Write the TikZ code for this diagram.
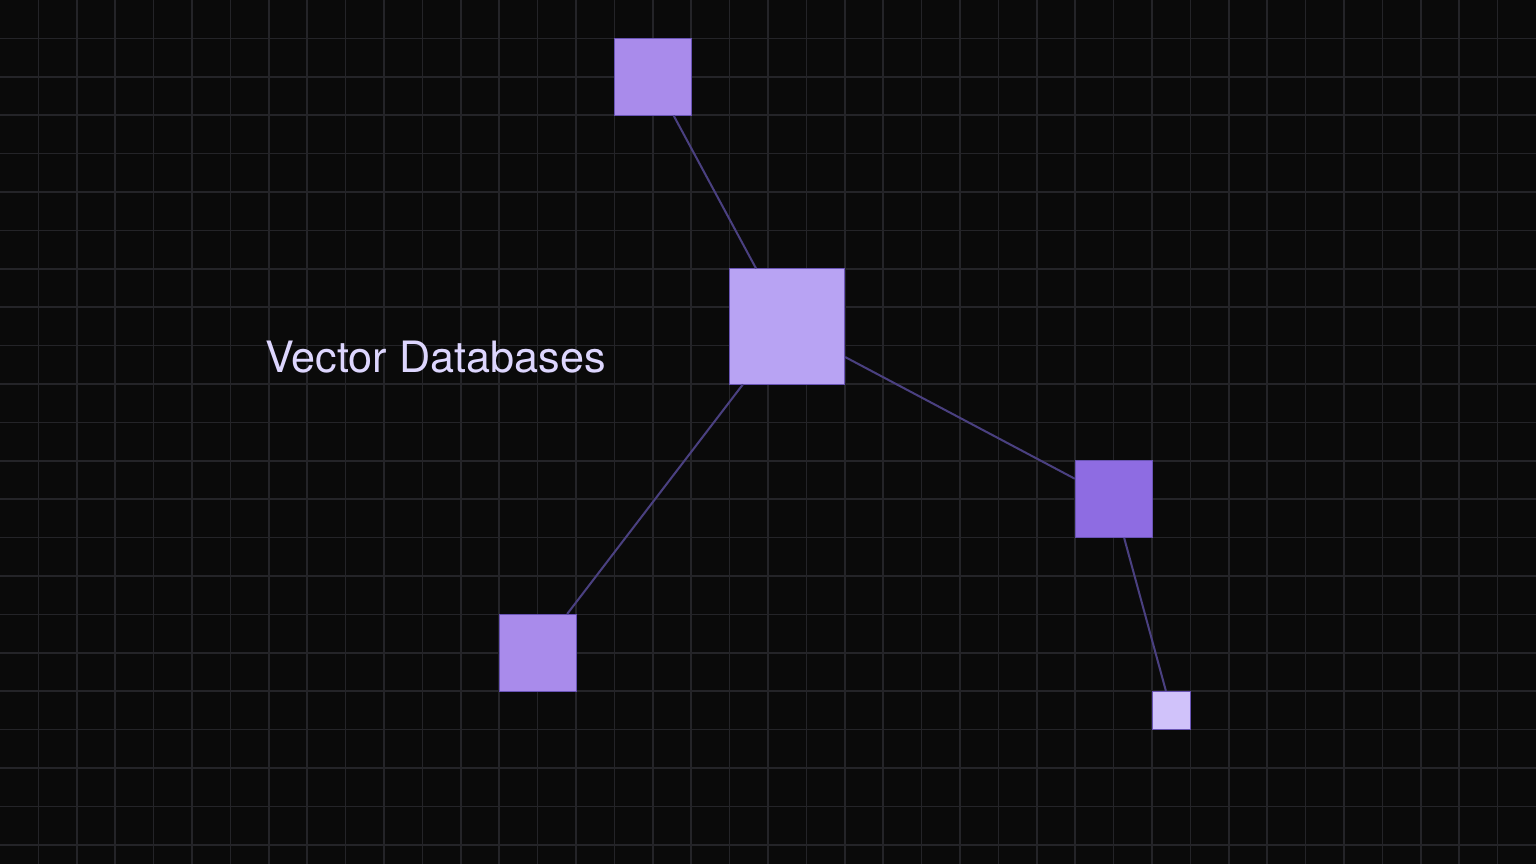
\documentclass[tikz,border=0pt]{standalone}
\usepackage{fontspec}
\setmainfont{TeX Gyre Heros}
\definecolor{bgdark}{HTML}{0A0A0A}
\definecolor{gridgray}{HTML}{242428}
\definecolor{linkviolet}{HTML}{4A4080}
\definecolor{edgeviolet}{HTML}{6A55B5}
\definecolor{vmid}{HTML}{A98BEB}
\definecolor{vlight}{HTML}{B8A3F3}
\definecolor{vdeep}{HTML}{8E6CE2}
\definecolor{vpale}{HTML}{D0C2FA}
\definecolor{labelpale}{HTML}{DDD6FE}
\tikzset{
    vecbox/.style={draw=edgeviolet,line width=0.6pt,inner sep=0pt,minimum size=#1cm},
    link/.style={draw=linkviolet,line width=1.5pt}
}
\begin{document}
\begin{tikzpicture}
    \useasboundingbox (0,-22.5) rectangle (40,0);
    \fill[bgdark] (-0.5,-23) rectangle (40.5,0.5);
    \foreach \i in {1,...,39}{
        \draw[gridgray,line width=1.1pt] (\i,-22.5) -- (\i,0);
    }
    \foreach \j in {1,...,22}{
        \draw[gridgray,line width=1.1pt] (0,-\j) -- (40,-\j);
    }
    \node[vecbox=2,fill=vmid] (top) at (17,-2) {};
    \node[vecbox=3,fill=vlight] (hub) at (20.5,-8.5) {};
    \node[vecbox=2,fill=vdeep] (right) at (29,-13) {};
    \node[vecbox=2,fill=vmid] (low) at (14,-17) {};
    \node[vecbox=1,fill=vpale] (tiny) at (30.5,-18.5) {};
    \foreach \a/\b in {top/hub,hub/right,hub/low,right/tiny}{
        \draw[link] (\a) -- (\b);
    }
    \node[anchor=base west,inner sep=0pt,text=labelpale,font=\fontsize{32}{38}\selectfont] (title) at (6.9,-9.71) {Vector Databases};
\end{tikzpicture}
\end{document}
